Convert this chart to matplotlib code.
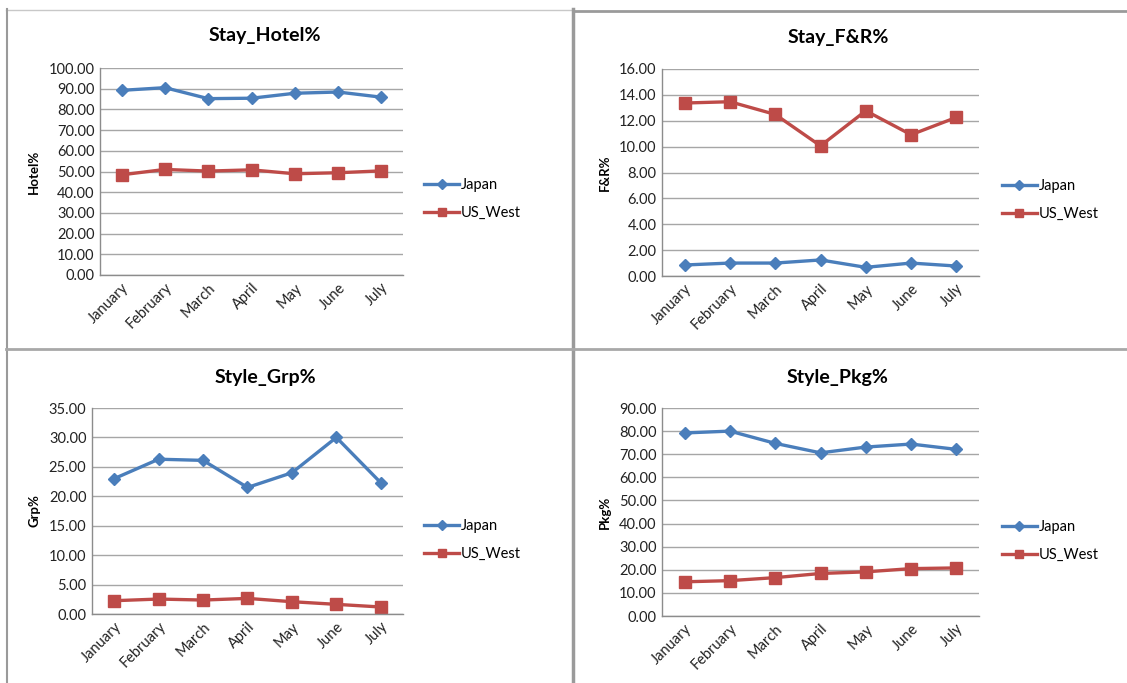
import matplotlib.pyplot as plt
from matplotlib.lines import Line2D

plt.rcParams['font.family'] = ['Lato', 'DejaVu Sans']

months = ['January', 'February', 'March', 'April', 'May', 'June', 'July']

hotel_japan = [89.2, 90.5, 85.2, 85.4, 87.8, 88.4, 85.9]
hotel_us = [48.4, 51.0, 50.2, 50.8, 48.9, 49.4, 50.3]

fr_japan = [0.85, 1.00, 1.00, 1.24, 0.67, 1.00, 0.77]
fr_us = [13.37, 13.47, 12.49, 10.06, 12.77, 10.92, 12.26]

grp_japan = [23.0, 26.3, 26.1, 21.5, 24.0, 30.0, 22.3]
grp_us = [2.26, 2.54, 2.37, 2.65, 2.09, 1.64, 1.19]

pkg_japan = [79.2, 80.0, 74.7, 70.6, 73.1, 74.4, 72.1]
pkg_us = [14.8, 15.3, 16.6, 18.4, 19.1, 20.5, 20.8]

BLUE = '#4a7ebb'
RED = '#be4b48'
GRID = '#a6a6a6'

W, H = 1127, 683
fig = plt.figure(figsize=(W / 100, H / 100), dpi=100)


def px_rect(left, right, top, bottom):
    return [left / W, 1 - bottom / H, (right - left) / W, (bottom - top) / H]


def panel(rect, title, title_xy, ylabel, japan, us, ymax, ystep, legend_xy):
    ax = fig.add_axes(px_rect(*rect))
    x = range(len(months))
    ax.plot(x, japan, color=BLUE, lw=2.4, marker='D', ms=6.5, label='Japan')
    ax.plot(x, us, color=RED, lw=2.4, marker='s', ms=8, label='US_West')
    ax.set_xlim(-0.5, len(months) - 0.5)
    ax.set_ylim(0, ymax)
    ticks = [i * ystep for i in range(int(round(ymax / ystep)) + 1)]
    ax.set_yticks(ticks)
    ax.set_yticklabels(['%.2f' % t for t in ticks])
    ax.set_xticks(list(x))
    ax.set_xticklabels(months, rotation=45, ha='right', rotation_mode='anchor')
    ax.tick_params(axis='both', length=0, labelsize=10.5, colors='#222222', pad=4)
    ax.grid(axis='y', color=GRID, lw=1)
    ax.set_axisbelow(True)
    for s in ['top', 'right']:
        ax.spines[s].set_visible(False)
    for s in ['left', 'bottom']:
        ax.spines[s].set_color('#8c8c8c')
        ax.spines[s].set_linewidth(1)
    ax.set_ylabel(ylabel, fontsize=9.5, fontweight='bold', labelpad=6)
    fig.text(title_xy[0] / W, 1 - title_xy[1] / H, title, ha='center', va='center',
             fontsize=14, fontweight='bold')
    ax.legend(loc='center left', bbox_to_anchor=(legend_xy[0] / W, 1 - legend_xy[1] / H),
              bbox_transform=fig.transFigure, frameon=False, fontsize=10.5,
              handlelength=2.4, handletextpad=0.1, labelspacing=0.95, borderpad=0,
              borderaxespad=0, markerscale=0.8)
    return ax


panel((100, 403, 68, 275), 'Stay_Hotel%', (265, 36), 'Hotel%',
      hotel_japan, hotel_us, 100, 10, (424, 199))
panel((662, 979, 69, 276), 'Stay_F&R%', (838, 37), 'F&R%',
      fr_japan, fr_us, 16, 2, (1002, 200))
panel((92, 403, 408, 614), 'Style_Grp%', (265, 377), 'Grp%',
      grp_japan, grp_us, 35, 5, (424, 540))
panel((662, 979, 408, 616), 'Style_Pkg%', (838, 377), 'Pkg%',
      pkg_japan, pkg_us, 90, 10, (1002, 541))

# frame lines around the four charts
def frame(x0, y0, x1, y1, color, lw):
    fig.add_artist(Line2D([x0 / W, x1 / W], [1 - y0 / H, 1 - y1 / H],
                          color=color, lw=lw, transform=fig.transFigure))


frame(6, 9.5, 573, 9.5, '#c8c8c8', 1)
frame(573, 10.5, W, 10.5, '#9a9a9a', 2)
frame(6.5, 9, 6.5, H, '#9a9a9a', 1.5)
frame(573, 9, 573, H, '#9a9a9a', 2.5)
frame(6, 349, W, 349, '#a8a8a8', 2)

fig.savefig('out.png', dpi=100)
